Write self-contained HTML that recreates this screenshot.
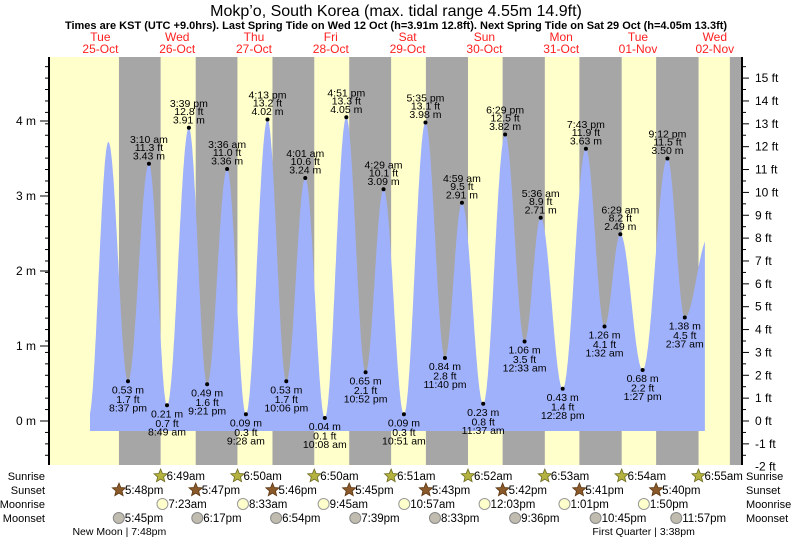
<!DOCTYPE html>
<html><head><meta charset="utf-8">
<style>
body{margin:0;background:#fff;}
svg{display:block;font-family:"Liberation Sans",sans-serif;}
</style></head>
<body>
<svg id="chart" width="793" height="539" viewBox="0 0 793 539" xmlns="http://www.w3.org/2000/svg">
<text x="396" y="16" text-anchor="middle" font-size="16" fill="#000">Mokp’o, South Korea (max. tidal range 4.55m 14.9ft)</text>
<text x="396" y="29" text-anchor="middle" font-size="11" font-weight="bold" fill="#000">Times are KST (UTC +9.0hrs). Last Spring Tide on Wed 12 Oct (h=3.91m 12.8ft). Next Spring Tide on Sat 29 Oct (h=4.05m 13.3ft)</text>
<g id="bands"></g>
<g id="tide"></g>
<g id="axes"></g>
<g id="labels"></g>
<g id="astro"></g>
</svg>
<script>
// ---- data ----
const dayNames = ["Tue","Wed","Thu","Fri","Sat","Sun","Mon","Tue","Wed"];
const dayDates = ["25-Oct","26-Oct","27-Oct","28-Oct","29-Oct","30-Oct","31-Oct","01-Nov","02-Nov"];
// extremes: hours since 25-Oct 00:00, heights in metres
const tideHours = [8.3,14.5,20.62,27.17,32.82,39.65,45.35,51.6,57.47,64.22,70.1,76.02,82.13,88.85,94.87,100.48,106.85,113.58,119.67,124.98,131.62,138.48,144.55,149.6,156.47,163.72,169.53,174.48,181.45,189.2,194.62,202];
const tideHeights = [0.05,3.72,0.53,3.43,0.21,3.91,0.49,3.36,0.09,4.02,0.53,3.24,0.04,4.05,0.65,3.09,0.09,3.98,0.84,2.91,0.23,3.82,1.06,2.71,0.43,3.63,1.26,2.49,0.68,3.50,1.38,2.45];
const tideLabels = ["","","8:37 pm","3:10 am","8:49 am","3:39 pm","9:21 pm","3:36 am","9:28 am","4:13 pm","10:06 pm","4:01 am","10:08 am","4:51 pm","10:52 pm","4:29 am","10:51 am","5:35 pm","11:40 pm","4:59 am","11:37 am","6:29 pm","12:33 am","5:36 am","12:28 pm","7:43 pm","1:32 am","6:29 am","1:27 pm","9:12 pm","2:37 am",""];
const seriesStart = 8.75, seriesEnd = 200.9;
const sunsetHours = [17.8,17.78,17.77,17.75,17.72,17.7,17.68,17.67,17.65];
const sunsetText = ["5:48pm","5:47pm","5:46pm","5:45pm","5:43pm","5:42pm","5:41pm","5:40pm"];
const sunriseHours = [6.82,6.83,6.83,6.85,6.87,6.88,6.9,6.92]; // for 26-Oct .. 02-Nov
const sunriseText = ["6:49am","6:50am","6:50am","6:51am","6:52am","6:53am","6:54am","6:55am"];
const moonriseHours = [31.38,56.55,81.75,106.95,132.05,157.02,181.83];
const moonriseText = ["7:23am","8:33am","9:45am","10:57am","12:03pm","1:01pm","1:50pm"];
const moonsetHours = [17.75,42.28,66.9,91.65,116.55,141.6,166.75,191.95];
const moonsetText = ["5:45pm","6:17pm","6:54pm","7:39pm","8:33pm","9:36pm","10:45pm","11:57pm"];
const phaseHours = [19.8,183.63];
const phaseText = ["New Moon | 7:48pm","First Quarter | 3:38pm"];
const mTicks = [0,1,2,3,4];
const ftTicks = [-2,-1,0,1,2,3,4,5,6,7,8,9,10,11,12,13,14,15];

// ---- scales ----
const PL=49, PR=742, PT=57, PB=465, BASE=-0.133;
const X = t => 62 + 3.2*t;
const Y = m => 421 - 75*m;
const NS="http://www.w3.org/2000/svg";
function mk(tag, attrs, parent, text){
  const e=document.createElementNS(NS,tag);
  for(const k in attrs) e.setAttribute(k,attrs[k]);
  if(text!==undefined) e.textContent=text;
  parent.appendChild(e); return e;
}
const bands=document.getElementById('bands'), tide=document.getElementById('tide'),
 axes=document.getElementById('axes'), labels=document.getElementById('labels'), astro=document.getElementById('astro');

let bg=mk('rect',{x:PL,y:PT,width:PR-PL,height:PB-PT,fill:'#ffffcc'},bands);


for(let i=0;i<9;i++){
  const s=X(24*i+sunsetHours[i])-(i===8?3:0);
  const r= i<8 ? X(24*(i+1)+sunriseHours[i]) : PR;
  const x0=Math.max(PL,s), x1=Math.min(PR,r);
  if(x1<=x0) continue;
  const b=mk('rect',{x:x0,y:PT,width:x1-x0,height:PB-PT,fill:'#a6a6a6'},bands);
  
  
}
for(let i=0;i<9;i++){
  const x=Math.max(81,X(24*i+12));
  const t1=mk('text',{x:x,y:41,'text-anchor':'middle','font-size':12,fill:'#ff2020'},bands,dayNames[i]);
  
  
  const t2=mk('text',{x:x,y:53,'text-anchor':'middle','font-size':12,fill:'#ff2020'},bands,dayDates[i]);
  
  
}

function h(t){
  for(let i=0;i<tideHours.length-1;i++){
    if(t>=tideHours[i]&&t<=tideHours[i+1]){
      const f=(t-tideHours[i])/(tideHours[i+1]-tideHours[i]);
      return tideHeights[i]+(tideHeights[i+1]-tideHeights[i])*(1-Math.cos(Math.PI*f))/2;
    }
  }
  return tideHeights[tideHeights.length-1];
}
let d='M'+X(seriesStart)+','+Y(BASE);
for(let t=seriesStart;t<=seriesEnd;t+=0.1) d+=' L'+X(t).toFixed(1)+','+Y(h(t)).toFixed(1);
d+=' L'+X(seriesEnd)+','+Y(h(seriesEnd)).toFixed(1)+' L'+X(seriesEnd)+','+Y(BASE)+' Z';
const area=mk('path',{d:d,fill:'#a0b1fc'},tide);



for(let i=0;i<tideHours.length;i++){
  if(!tideLabels[i]) continue;
  const x=X(tideHours[i]), y=Y(tideHeights[i]);
  const m=tideHeights[i], ft=(m*3.28084).toFixed(1);
  const dot=mk('circle',{cx:x,cy:y,r:2,fill:'#000'},labels);
  
  
  const high = i>0 && m>tideHeights[i-1];
  const lines = high ? [tideLabels[i], ft+' ft', m.toFixed(2)+' m'] : [m.toFixed(2)+' m', ft+' ft', tideLabels[i]];
  const ys = high ? [y-21,y-13,y-4.5] : [y+12,y+21.5,y+30];
  for(let k=0;k<3;k++){
    const tx=mk('text',{x:x,y:ys[k],'text-anchor':'middle','font-size':10.5,fill:'#000'},labels,lines[k]);
    
    
  }
}

const la=mk('line',{x1:PL,y1:PT,x2:PL,y2:PB,stroke:'#000','stroke-width':2},axes);


const ra=mk('line',{x1:PR,y1:PT,x2:PR,y2:PB,stroke:'#000','stroke-width':2},axes);


for(let v=-2;v<=17;v+=0.5){
  const y=Y(v*0.3048); if(y<PT||y>PB) continue;
  mk('line',{x1:PL-4,y1:y,x2:PL,y2:y,stroke:'#000'},axes);
}
mTicks.forEach(v=>{
  const y=Y(v);
  mk('line',{x1:PL-9,y1:y,x2:PL,y2:y,stroke:'#000'},axes);
  const t=mk('text',{x:36,y:y+4,'text-anchor':'end','font-size':12,fill:'#000'},axes,v+' m');
  
  
});
for(let v=-2;v<=16;v+=0.5){
  const y=Y(v*0.3048); if(y<PT||y>PB) continue;
  mk('line',{x1:PR,y1:y,x2:PR+(v%1===0?7:4),y2:y,stroke:'#000'},axes);
}
ftTicks.forEach(v=>{
  const y=Y(v*0.3048);
  const t=mk('text',{x:755,y:y+4,'font-size':12,fill:'#000'},axes,v+' ft');
  
  
});

const rows=[["Sunrise",476],["Sunset",490],["Moonrise",504],["Moonset",518]];
rows.forEach(r=>{
  const a=mk('text',{x:45,y:r[1]+4,'text-anchor':'end','font-size':11,fill:'#000'},astro,r[0]);
  
  
  const b=mk('text',{x:746,y:r[1]+4,'font-size':11,fill:'#000'},astro,r[0]);
  
  
});
function star(cx,cy,R,fill,stroke){
  let p='';
  for(let k=0;k<10;k++){
    const rr=k%2?R*0.45:R, a=-Math.PI/2+k*Math.PI/5;
    p+=(cx+rr*Math.cos(a)).toFixed(1)+','+(cy+rr*Math.sin(a)).toFixed(1)+' ';
  }
  return mk('polygon',{points:p,fill:fill,stroke:stroke,'stroke-width':0.8},astro);
}
function evt(x,y,text,kind){
  let ic;
  if(kind==='sunrise') ic=star(x,y,7,'#b5b340','#6b6a20');
  else if(kind==='sunset') ic=star(x,y,7,'#8b5a2b','#5a3510');
  else if(kind==='moonrise') ic=mk('circle',{cx:x,cy:y,r:5.5,fill:'#ffffcc',stroke:'#999'},astro);
  else ic=mk('circle',{cx:x,cy:y,r:5.5,fill:'#c0bcb0',stroke:'#888'},astro);
  
  
  const t=mk('text',{x:x+6,y:y+4,'font-size':11.5,fill:'#000'},astro,text);
  
  
}
sunriseHours.forEach((h,i)=>evt(X(24*(i+1)+h),476,sunriseText[i],'sunrise'));
sunsetText.forEach((s,i)=>evt(X(24*i+sunsetHours[i]),490,s,'sunset'));
moonriseHours.forEach((h,i)=>evt(X(h),504,moonriseText[i],'moonrise'));
moonsetHours.forEach((h,i)=>evt(X(h),518,moonsetText[i],'moonset'));
phaseHours.forEach((h,i)=>{
  const t=mk('text',{x:X(h)-6,y:535,'text-anchor':'middle','font-size':10.5,fill:'#000'},astro,phaseText[i]);
  
  
});
</script>
</body></html>
